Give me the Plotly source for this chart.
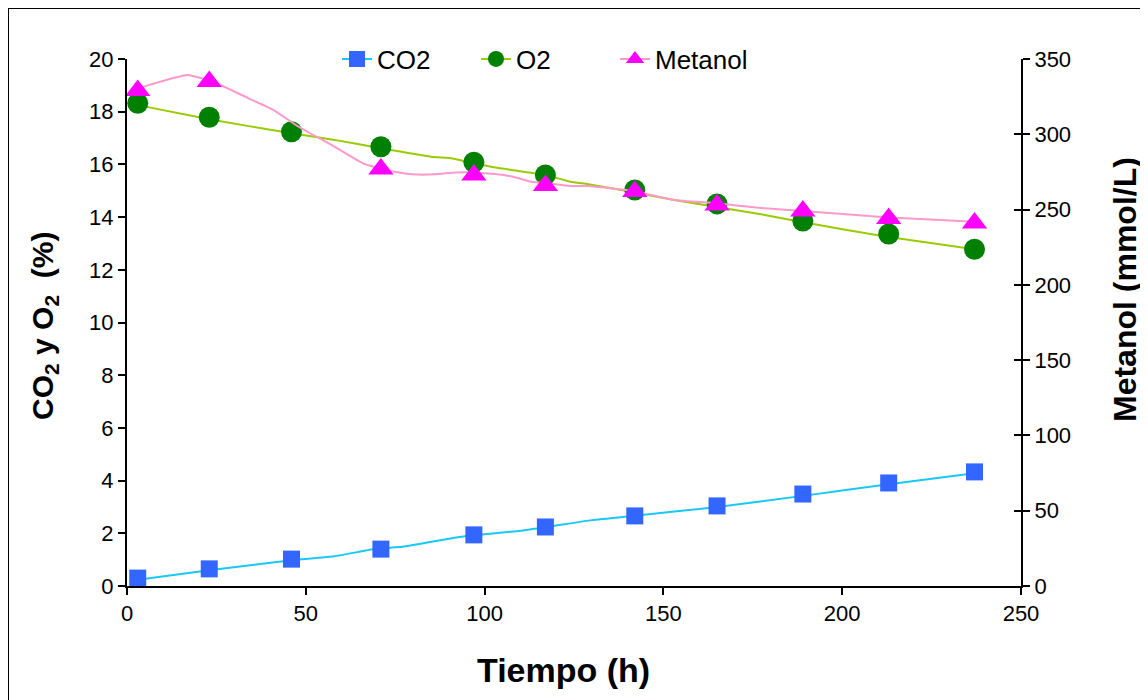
import plotly.graph_objects as go

# ---- data ----
t_co2 = [3, 23, 46, 71, 97, 117, 142, 165, 189, 213, 237]
co2 = [0.30, 0.65, 1.02, 1.40, 1.94, 2.24, 2.66, 3.04, 3.49, 3.91, 4.33]

t_o2 = [3, 23, 46, 71, 97, 117, 142, 165, 189, 213, 237]
o2 = [18.32, 17.79, 17.24, 16.67, 16.08, 15.60, 15.03, 14.50, 13.85, 13.36, 12.78]

t_met = [3, 23, 71, 97, 117, 142, 165, 189, 213, 237]
met = [329, 335, 277, 273, 266, 262, 253, 249, 244, 241]

# smoothed trend lines drawn in the reference
co2_line_t = [3, 23, 46, 58, 70, 77, 92, 97, 109, 118, 130, 142, 164, 189, 213, 237]
co2_line = [0.24, 0.60, 0.98, 1.13, 1.42, 1.49, 1.84, 1.93, 2.08, 2.25, 2.50, 2.67, 2.98, 3.42, 3.86, 4.28]

o2_line_t = [3, 23, 46, 58, 71, 85, 91, 97, 103, 109, 117, 124, 129, 141, 153, 176, 188, 212, 237]
o2_line = [18.25, 17.71, 17.18, 16.93, 16.61, 16.29, 16.22, 16.04, 15.88, 15.76, 15.60, 15.34,
           15.25, 14.96, 14.65, 14.14, 13.83, 13.26, 12.78]

met_line_t = [3, 17, 25, 34, 41, 48, 58, 66, 73, 80, 86, 92, 97, 103, 108, 113, 118, 124, 129,
              141, 153, 165, 176, 188, 212, 237]
met_line = [330.5, 339.4, 333.9, 323.9, 316.1, 305.0, 291.8, 280.7, 275.8, 273.4, 273.4, 274.7,
            274.7, 273.6, 271.8, 268.5, 267.4, 265.7, 265.7, 262.5, 256.4, 254.2, 251.3, 249.3,
            244.9, 241.9]

series_names = ["CO2", "O2", "Metanol"]
x_title = "<b>Tiempo (h)</b>"
y_title = "<b>CO<sub>2</sub> y O<sub>2</sub>  (%)</b>"
y2_title = "<b>Metanol (mmol/L)</b>"

# ---- styles ----
FONT = "Liberation Sans, Arial, sans-serif"
c_co2_line, c_co2_mk = "#19C8F5", "#3366FF"
c_o2_line, c_o2_mk = "#99CC00", "#008000"
c_met_line, c_met_mk = "#FF99CC", "#FF00FF"

# page body has an 8px margin, so the figure is offset by (8, 8)
ML, MT, PW, PH = 119, 51, 894, 527
W, H = 1140, 692

fig = go.Figure()

fig.add_trace(go.Scatter(x=co2_line_t, y=co2_line, mode="lines", showlegend=False,
                         line=dict(color=c_co2_line, width=2, shape="spline", smoothing=0.4),
                         hoverinfo="skip"))
fig.add_trace(go.Scatter(x=t_co2, y=co2, mode="markers", showlegend=False,
                         marker=dict(symbol="square", size=17, color=c_co2_mk)))
fig.add_trace(go.Scatter(x=o2_line_t, y=o2_line, mode="lines", showlegend=False,
                         line=dict(color=c_o2_line, width=2, shape="spline", smoothing=0.4),
                         hoverinfo="skip"))
fig.add_trace(go.Scatter(x=t_o2, y=o2, mode="markers", showlegend=False,
                         marker=dict(symbol="circle", size=21, color=c_o2_mk)))
fig.add_trace(go.Scatter(x=met_line_t, y=met_line, mode="lines", showlegend=False, yaxis="y2",
                         line=dict(color=c_met_line, width=2, shape="spline", smoothing=0.4),
                         hoverinfo="skip"))
fig.add_trace(go.Scatter(x=t_met, y=met, mode="markers", showlegend=False, yaxis="y2",
                         marker=dict(symbol="triangle-up", size=22, color=c_met_mk)))

# legend entries
for name, lc, mc, sym, sz in [(series_names[0], c_co2_line, c_co2_mk, "square", 16),
                              (series_names[1], c_o2_line, c_o2_mk, "circle", 18),
                              (series_names[2], c_met_line, c_met_mk, "triangle-up", 20)]:
    fig.add_trace(go.Scatter(x=[None], y=[None], mode="lines+markers", name=name,
                             line=dict(color=lc, width=2),
                             marker=dict(symbol=sym, size=sz, color=mc)))

fig.add_trace(go.Scatter(x=[None], y=[None], yaxis="y3", showlegend=False))

axis_common = dict(showgrid=False, zeroline=False, showline=True, linecolor="black",
                   linewidth=2, ticks="outside", ticklen=7, tickwidth=2, tickcolor="black",
                   tickfont=dict(family=FONT, size=22, color="black"))


def px_x(p):
    return (p - 127) / PW


def px_y(p):
    return (586 - p) / PH


fig.update_layout(
    width=W, height=H,
    paper_bgcolor="white", plot_bgcolor="white",
    margin=dict(l=ML, r=W - ML - PW, t=MT, b=H - MT - PH),
    font=dict(family=FONT, color="black"),
    xaxis=dict(range=[0, 250], dtick=50, **axis_common),
    yaxis=dict(range=[0, 20], dtick=2, **axis_common),
    yaxis2=dict(range=[0, 350], dtick=50, overlaying="y", side="right", anchor="x",
                **axis_common),
    yaxis3=dict(range=[0, 350], dtick=50, overlaying="y", side="right", anchor="x",
                showgrid=False, zeroline=False, showline=False, ticks="inside", ticklen=7,
                tickwidth=2, tickcolor="black", showticklabels=False),
    legend=dict(orientation="h", x=px_x(337), xanchor="left", y=1.0, yanchor="middle",
                entrywidth=94, entrywidthmode="pixels",
                font=dict(family=FONT, size=26, color="black"), bgcolor="rgba(0,0,0,0)",
                traceorder="normal"),
    annotations=[
        dict(text=x_title, xref="paper", yref="paper", x=px_x(563), y=px_y(670),
             xanchor="center", yanchor="middle", showarrow=False,
             font=dict(family=FONT, size=34, color="black")),
        dict(text=y_title, xref="paper", yref="paper", x=px_x(44), y=px_y(326),
             xanchor="center", yanchor="middle", showarrow=False, textangle=-90,
             font=dict(family=FONT, size=30, color="black")),
        dict(text=y2_title, xref="paper", yref="paper", x=px_x(1125), y=px_y(290),
             xanchor="center", yanchor="middle", showarrow=False, textangle=-90,
             font=dict(family=FONT, size=32, color="black")),
    ],
    shapes=[dict(type="rect", xref="paper", yref="paper",
                 x0=-ML / PW, x1=1.3, y0=-0.4, y1=1 + MT / PH,
                 line=dict(color="black", width=2), layer="below")],
)

fig.write_html("out.html")
